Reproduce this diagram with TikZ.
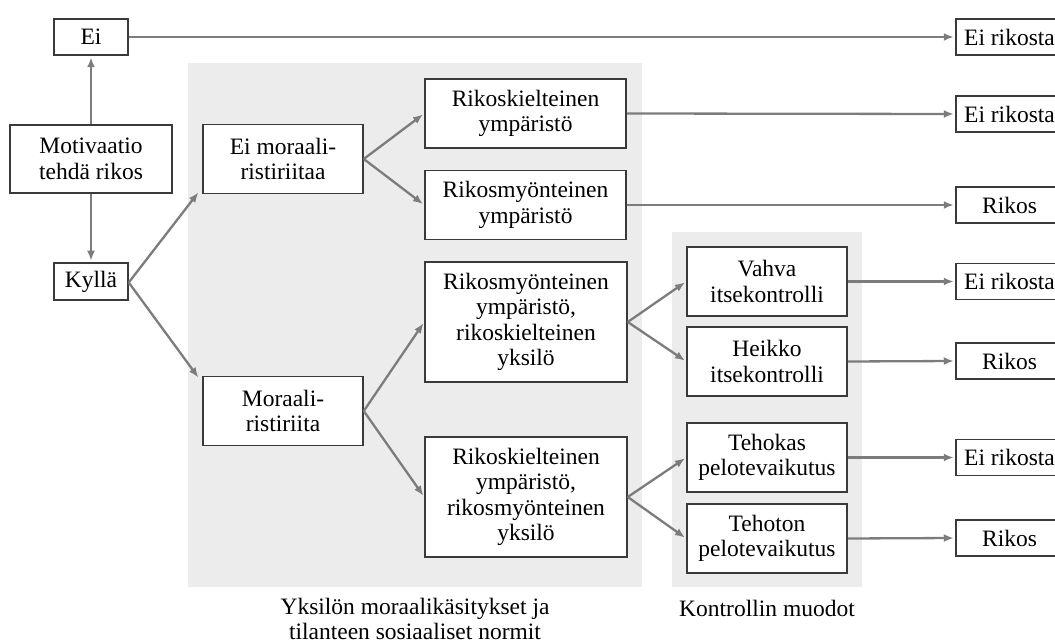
\documentclass[tikz,border=0pt]{standalone}
\usepackage{fontspec}
\setmainfont{Liberation Serif}
\usetikzlibrary{arrows.meta}
\definecolor{bordc}{HTML}{3A3A3A}
\definecolor{arrc}{HTML}{7C7C7C}
\definecolor{panel}{HTML}{ECECEC}
\begin{document}
\begin{tikzpicture}[x=1pt,y=-1pt,
  box/.style={draw=bordc, line width=1.5pt, fill=white, inner sep=0pt, align=center,
    font=\fontsize{23.5}{25.5}\selectfont},
  lbl/.style={inner sep=0pt, align=center, font=\fontsize{23.5}{25.5}\selectfont},
  arr/.style={draw=arrc, line width=2.3pt, -{Latex[length=10pt,width=8pt]}, shorten >=1.5pt},
  endbox/.style={box, minimum width=107pt, minimum height=36pt},
  midbox/.style={box, minimum width=160pt, minimum height=69pt},
  envbox/.style={box, minimum width=201pt, minimum height=69pt},
  bigbox/.style={box, minimum width=202pt, minimum height=120pt},
]
\useasboundingbox (0,0) rectangle (1055,644);
\fill[panel] (188,63) rectangle (642,587);
\fill[panel] (672,232) rectangle (862,587);

% left column
\node[box, minimum width=74pt, minimum height=36pt] (ei) at (91,37) {Ei};
\node[box, minimum width=162pt, minimum height=68pt] (mot) at (91,159) {Motivaatio\\tehdä rikos};
\node[box, minimum width=74pt, minimum height=37pt] (kyl) at (91,281.5) {Kyllä};

% second column
\node[midbox] (em) at (283,159) {Ei moraali-\\ristiriitaa};
\node[midbox] (mr) at (283,411) {Moraali-\\ristiriita};

% third column
\node[envbox] (rk) at (525.5,113.5) {Rikoskielteinen\\ympäristö};
\node[envbox] (rm) at (525.5,205) {Rikosmyönteinen\\ympäristö};
\node[bigbox] (b3) at (526,322) {Rikosmyönteinen\\ympäristö,\\rikoskielteinen\\yksilö};
\node[bigbox] (b4) at (526,497) {Rikoskielteinen\\ympäristö,\\rikosmyönteinen\\yksilö};

% fourth column
\node[midbox] (va) at (767,281.5) {Vahva\\itsekontrolli};
\node[midbox] (he) at (767,361.5) {Heikko\\itsekontrolli};
\node[midbox] (te) at (767,457.5) {Tehokas\\pelotevaikutus};
\node[midbox] (tn) at (767,538.5) {Tehoton\\pelotevaikutus};

% outcomes
\node[endbox] (r1) at (1009.5,37) {Ei rikosta};
\node[endbox] (r2) at (1009.5,114) {Ei rikosta};
\node[endbox] (r3) at (1009.5,205) {Rikos};
\node[endbox] (r4) at (1009.5,281.5) {Ei rikosta};
\node[endbox] (r5) at (1009.5,361) {Rikos};
\node[endbox] (r6) at (1009.5,457.5) {Ei rikosta};
\node[endbox] (r7) at (1009.5,538) {Rikos};

% labels
\node[lbl] (l1) at (415,619) {Yksilön moraalikäsitykset ja\\tilanteen sosiaaliset normit};
\node[lbl] (l2) at (767,608) {Kontrollin muodot};

% connectors
\coordinate (kyle) at ([yshift=-1pt]kyl.east);
\draw[arr] (mot.north) -- (ei.south);
\draw[arr] (mot.south) -- (kyl.north);
\draw[arr] (kyle) -- ([shift={(-3pt,3pt)}]em.south west);
\draw[arr] (kyle) -- ([shift={(-3pt,-3pt)}]mr.north west);
\draw[arr] (em.east) -- (rk.west);
\draw[arr] (em.east) -- (rm.west);
\draw[arr] (mr.east) -- (b3.west);
\draw[arr] (mr.east) -- (b4.west);
\draw[arr] (b3.east) -- (va.west);
\draw[arr] (b3.east) -- (he.west);
\draw[arr] (b4.east) -- (te.west);
\draw[arr] (b4.east) -- (tn.west);
\draw[arr] (ei.east) -- (r1.west);
\draw[arr] (rk.east) -- (r2.west);
\draw[arr] (rm.east) -- (r3.west);
\draw[arr] (va.east) -- (r4.west);
\draw[arr] (he.east) -- (r5.west);
\draw[arr] (te.east) -- (r6.west);
\draw[arr] (tn.east) -- (r7.west);
\end{tikzpicture}
\end{document}
